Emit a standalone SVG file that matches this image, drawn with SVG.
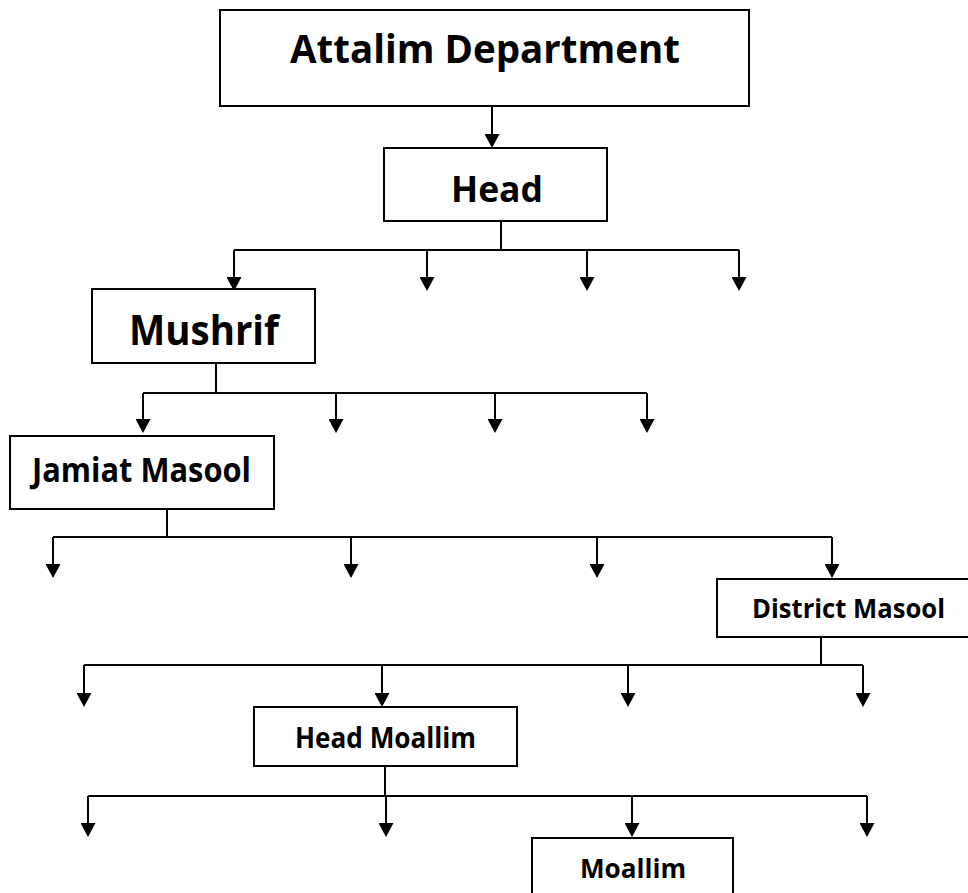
<svg xmlns="http://www.w3.org/2000/svg" width="968" height="893" viewBox="0 0 968 893">
<style>
.box{fill:#fff;stroke:#000;stroke-width:2}
.lbl{font-family:"Open Sans","Liberation Sans",sans-serif;font-weight:bold;fill:#000}
.ln{fill:none;stroke:#000;stroke-width:2}
.ar{fill:none;stroke:#000;stroke-width:2;marker-end:url(#ah)}
</style>
<defs>
<marker id="ah" viewBox="0 0 14 15" refX="4" refY="7.5" markerWidth="14" markerHeight="15" markerUnits="userSpaceOnUse" orient="auto">
<path d="M0,0 L14,7.5 L0,15 z" fill="#000"/>
</marker>
</defs>
<rect width="968" height="893" fill="#fff"/>
<g id="connectors">
<path class="ar" d="M492,106 V138"/>
<path class="ln" d="M501,221 V250 M234,250 H739"/>
<path class="ar" d="M234,250 V281"/>
<path class="ar" d="M427,250 V281"/>
<path class="ar" d="M587,250 V281"/>
<path class="ar" d="M739,250 V281"/>
<path class="ln" d="M216,363 V393 M143,393 H647"/>
<path class="ar" d="M143,393 V423"/>
<path class="ar" d="M336,393 V423"/>
<path class="ar" d="M495,393 V423"/>
<path class="ar" d="M647,393 V423"/>
<path class="ln" d="M167,509 V537 M53,537 H832"/>
<path class="ar" d="M53,537 V568"/>
<path class="ar" d="M351,537 V568"/>
<path class="ar" d="M597,537 V568"/>
<path class="ar" d="M832,537 V568"/>
<path class="ln" d="M821,637 V665 M84,665 H863"/>
<path class="ar" d="M84,665 V697"/>
<path class="ar" d="M382,665 V697"/>
<path class="ar" d="M628,665 V697"/>
<path class="ar" d="M863,665 V697"/>
<path class="ln" d="M385,766 V796 M88,796 H867"/>
<path class="ar" d="M88,796 V827"/>
<path class="ar" d="M386,796 V827"/>
<path class="ar" d="M632,796 V827"/>
<path class="ar" d="M867,796 V827"/>
</g>
<g id="attalim">
<rect class="box" x="220" y="10" width="529" height="96"/>
<text class="lbl" x="290" y="63" font-size="39" textLength="390" lengthAdjust="spacingAndGlyphs">Attalim Department</text>
</g>
<g id="head">
<rect class="box" x="384" y="148" width="223" height="73"/>
<text class="lbl" x="451" y="202" font-size="35" textLength="92" lengthAdjust="spacingAndGlyphs">Head</text>
</g>
<g id="mushrif">
<rect class="box" x="92" y="289" width="223" height="74"/>
<text class="lbl" x="129" y="345" font-size="41" textLength="150" lengthAdjust="spacingAndGlyphs">Mushrif</text>
</g>
<g id="jamiat-masool">
<rect class="box" x="10" y="436" width="264" height="73"/>
<text class="lbl" x="32" y="482" font-size="34" textLength="219" lengthAdjust="spacingAndGlyphs">Jamiat Masool</text>
</g>
<g id="district-masool">
<rect class="box" x="717" y="579" width="252" height="58"/>
<text class="lbl" x="752" y="618" font-size="27" textLength="193" lengthAdjust="spacingAndGlyphs">District Masool</text>
</g>
<g id="head-moallim">
<rect class="box" x="254" y="707" width="263" height="59"/>
<text class="lbl" x="295" y="748" font-size="28" textLength="181" lengthAdjust="spacingAndGlyphs">Head Moallim</text>
</g>
<g id="moallim">
<rect class="box" x="532" y="838" width="201" height="60"/>
<text class="lbl" x="580" y="878" font-size="27" textLength="106" lengthAdjust="spacingAndGlyphs">Moallim</text>
</g>
</svg>
